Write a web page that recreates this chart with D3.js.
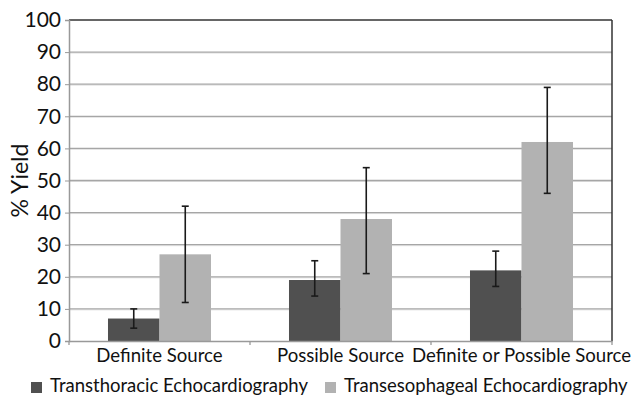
<!DOCTYPE html>
<html><head><meta charset="utf-8">
<script src="https://cdn.jsdelivr.net/npm/d3@7"></script>
<style>
html,body{margin:0;padding:0;background:#fff;}
svg text{font-family:Lato,"Open Sans",sans-serif;fill:#111;}
</style></head>
<body><svg id="c" width="633" height="396"></svg>
<script>
const categories = ["Definite Source","Possible Source","Definite or Possible Source"];
const seriesNames = ["Transthoracic Echocardiography","Transesophageal Echocardiography"];
const tteValues = [7,19,22];
const teeValues = [27,38,62];
const tteLow = [4,14,17];
const tteHigh = [10,25,28];
const teeLow = [12,21,46];
const teeHigh = [42,54,79];
const yTicks = [0,10,20,30,40,50,60,70,80,90,100];
const colors = ["#505050","#b2b2b2"];

const svg = d3.select("#c");
const m = {l:69, r:21, t:20, b:55};
const W = 633, H = 396;
const x0 = d3.scaleBand().domain(categories).range([m.l, W-m.r]).paddingInner(0).paddingOuter(0);
const x1 = d3.scaleBand().domain([0,1]).range([0, x0.bandwidth()]).paddingOuter(0.757).paddingInner(0);
const y = d3.scaleLinear().domain([0,100]).range([H-m.b, m.t]);

// gridlines
const g = svg.append("g");
g.selectAll("line.grid").data(yTicks.slice(1,-1)).join("line")
  .attr("x1", m.l).attr("x2", W-m.r).attr("y1", d=>y(d)+1).attr("y2", d=>y(d)+1)
  .attr("stroke","#e2e2e2").attr("stroke-width",1);
g.selectAll("line.grid2").data(yTicks.slice(1,-1)).join("line")
  .attr("x1", m.l).attr("x2", W-m.r).attr("y1", d=>y(d)).attr("y2", d=>y(d))
  .attr("stroke","#a6a6a6").attr("stroke-width",1.3);
// top and right border
svg.append("line").attr("x1",m.l).attr("x2",W-m.r).attr("y1",y(100)).attr("y2",y(100)).attr("stroke","#333").attr("stroke-width",1.5);
svg.append("line").attr("x1",W-m.r).attr("x2",W-m.r).attr("y1",y(100)).attr("y2",y(0)).attr("stroke","#333").attr("stroke-width",1.5);

const data = categories.map((c,i)=>({c, vals:[
  {s:0, v:tteValues[i], lo:tteLow[i], hi:tteHigh[i]},
  {s:1, v:teeValues[i], lo:teeLow[i], hi:teeHigh[i]}]}));

const cg = svg.selectAll("g.cat").data(data).join("g").attr("transform", d=>`translate(${x0(d.c)},0)`);
cg.selectAll("rect").data(d=>d.vals).join("rect")
  .attr("x", d=>x1(d.s)).attr("width", x1.bandwidth())
  .attr("y", d=>y(d.v)).attr("height", d=>y(0)-y(d.v))
  .attr("fill", d=>colors[d.s]);
const eb = cg.selectAll("g.eb").data(d=>d.vals).join("g").attr("class","eb");
eb.append("line").attr("x1", d=>x1(d.s)+x1.bandwidth()/2).attr("x2", d=>x1(d.s)+x1.bandwidth()/2)
  .attr("y1", d=>y(d.lo)).attr("y2", d=>y(d.hi)).attr("stroke","#1a1a1a").attr("stroke-width",1.6);
["lo","hi"].forEach(k=>{
  eb.append("line").attr("x1", d=>x1(d.s)+x1.bandwidth()/2-3.5).attr("x2", d=>x1(d.s)+x1.bandwidth()/2+3.5)
    .attr("y1", d=>y(d[k])).attr("y2", d=>y(d[k])).attr("stroke","#1a1a1a").attr("stroke-width",1.6);
});

// y axis
const ya = svg.append("g").attr("transform",`translate(${m.l},0)`)
  .call(d3.axisLeft(y).tickValues(yTicks).tickSize(4).tickPadding(4));
ya.select(".domain").attr("stroke","#999").attr("stroke-width",1.5);
ya.selectAll(".tick line").attr("stroke","#999");
ya.selectAll("text").attr("font-size",21).attr("fill","#111");

// x axis
const xa = svg.append("g").attr("transform",`translate(0,${y(0)})`)
  .call(d3.axisBottom(x0).tickSize(0).tickPadding(8));
xa.select(".domain").attr("stroke","#999").attr("stroke-width",1.5);
xa.selectAll("text").attr("font-size",18.6).attr("fill","#111");
// boundary ticks
svg.append("g").selectAll("line").data(categories.concat([null])).join("line")
  .attr("x1", (d,i)=> i<categories.length ? x0(d) : W-m.r)
  .attr("x2", (d,i)=> i<categories.length ? x0(d) : W-m.r)
  .attr("y1", y(0)).attr("y2", y(0)+4).attr("stroke","#999").attr("stroke-width",1.3);

// y title
svg.append("text").attr("transform",`translate(28,${(y(0)+y(100))/2}) rotate(-90)`)
  .attr("text-anchor","middle").attr("font-size",23).text("% Yield");

// legend
const legX = [31, 325];
const lg = svg.selectAll("g.leg").data(seriesNames).join("g").attr("transform",(d,i)=>`translate(${legX[i]},382)`);
lg.append("rect").attr("width",11).attr("height",11).attr("fill",(d,i)=>colors[i]);
lg.append("text").attr("x",19).attr("y",10).attr("font-size",18.5).text(d=>d);
</script></body></html>
